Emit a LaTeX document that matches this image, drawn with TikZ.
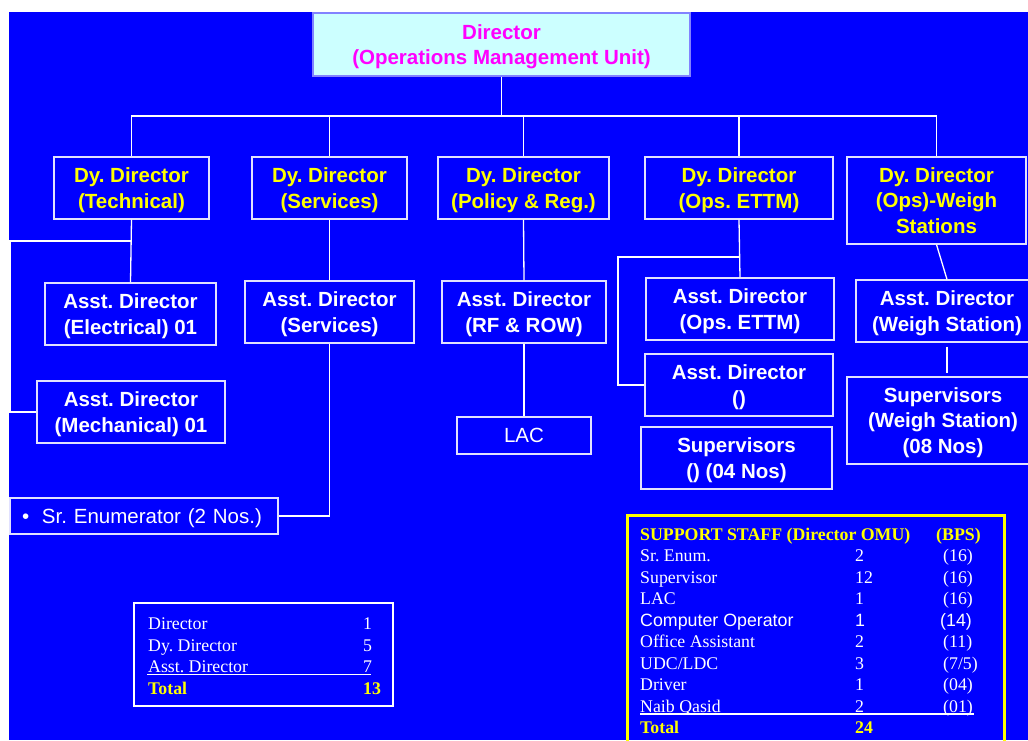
\documentclass[tikz,border=0pt]{standalone}
\usepackage{fontspec}
\setmainfont{Liberation Serif}
\newfontfamily\arialf{Liberation Sans}
\frenchspacing
\newcommand\boxfont{\arialf\bfseries\fontsize{20.5}{25.5}\selectfont}
\newcommand\boxfontreg{\arialf\fontsize{20.5}{25.5}\selectfont}
\newcommand\tabfont{\fontsize{17.8}{21.5}\selectfont}
\newcommand\tabsans{\arialf\fontsize{17.8}{21.5}\selectfont}
\definecolor{bgblue}{RGB}{0,0,255}
\definecolor{boxline}{RGB}{225,225,255}
\definecolor{dirfill}{RGB}{204,255,255}
\definecolor{dirline}{RGB}{130,130,255}
\definecolor{dirtext}{RGB}{255,0,255}
\definecolor{ylw}{RGB}{255,255,0}
\begin{document}
\begin{tikzpicture}[x=1pt,y=-1pt,
  box/.style={draw=boxline, line width=1.2pt, fill=bgblue, align=center, inner sep=0pt,
    text=white, font=\boxfont, text depth=0pt},
  onebox/.style={box, font=\boxfontreg, text depth=0pt},
  dybox/.style={box, text=ylw},
  conn/.style={draw=white, line width=1.3pt},
  cell/.style={anchor=base west, inner sep=0pt, text=white, font=\tabfont},
  cellsans/.style={cell, font=\tabsans},
  tot/.style={cell, text=ylw, font=\tabfont\bfseries}]
\clip (0,0) rectangle (1028,740);
\fill[white] (0,0) rectangle (1028,740);
\fill[bgblue] (9,12) rectangle (1028,740);

% Director
\node[box, fill=dirfill, draw=dirline, text=dirtext, minimum width=377, minimum height=63]
  (dir) at (501.5,44.5) {Director\\(Operations Management Unit)};

% Deputy directors
\node[dybox, minimum width=155, minimum height=62] (dt) at (131.5,188) {Dy. Director\\(Technical)};
\node[dybox, minimum width=155, minimum height=62] (ds) at (329.5,188) {Dy. Director\\(Services)};
\node[dybox, minimum width=171, minimum height=62] (dp) at (523.5,188) {Dy. Director\\(Policy \& Reg.)};
\node[dybox, minimum width=188, minimum height=62] (de) at (739,188) {Dy. Director\\(Ops. ETTM)};
\node[dybox, minimum width=179, minimum height=87] (dw) at (936.5,200.5) {Dy. Director\\(Ops)-Weigh\\Stations};

% Assistant directors and staff
\node[box, minimum width=171, minimum height=62] (ae) at (130.5,314) {Asst. Director\\(Electrical) 01};
\node[box, minimum width=188, minimum height=62] (am) at (131,412) {Asst. Director\\(Mechanical) 01};
\node[box, minimum width=169, minimum height=62] (as) at (329.5,312) {Asst. Director\\(Services)};
\node[box, minimum width=164, minimum height=62] (ar) at (524,312) {Asst. Director\\(RF \& ROW)};
\node[onebox, minimum width=134, minimum height=37] (lac) at (524,435.5) {LAC};
\node[box, minimum width=188, minimum height=62] (aet) at (740,309) {Asst. Director\\(Ops. ETTM)};
\node[box, minimum width=188, minimum height=62] (ax) at (739,385) {Asst. Director\\()};
\node[box, minimum width=191, minimum height=62] (sx) at (736.5,458) {Supervisors\\() (04 Nos)};
\node[box, minimum width=182, minimum height=62] (aw) at (947,311) {Asst. Director\\(Weigh Station)};
\node[box, minimum width=192, minimum height=87] (sw) at (943,420.5) {Supervisors\\(Weigh Station)\\(08 Nos)};
\node[onebox, minimum width=268, minimum height=36, text width=244, inner xsep=12pt, align=left]
  (sre) at (144,516) {\makebox[20pt][l]{\textbullet}Sr. Enumerator (2 Nos.)};

% Connectors
\coordinate (bus) at (502,116);
\coordinate (tl) at (10,241);
\coordinate (eb) at (618,257);
\draw[conn] (dir.south) -- (dir.south |- bus);
\draw[conn] (dt.north) -- (dt.north |- bus) -- (dw.north |- bus) -- (dw.north);
\draw[conn] (ds.north) -- (ds.north |- bus);
\draw[conn] (dp.north) -- (dp.north |- bus);
\draw[conn] (de.north) -- (de.north |- bus);
\draw[conn] (dt.south) -- (ae.north);
\draw[conn] (dt.south |- tl) -- (tl) |- (am.west);
\draw[conn] (ds.south) -- (as.north);
\draw[conn] (as.south) |- (sre.east);
\draw[conn] (dp.south) -- (ar.north);
\draw[conn] (ar.south) -- (lac.north);
\draw[conn] (de.south) -- (aet.north);
\draw[conn] (de.south |- eb) -- (eb) |- (ax.west);
\draw[conn] (dw.south) -- (aw.north);
\draw[conn] ([yshift=-4]aw.south) -- ([yshift=3]aw.south |- sw.north);

% Counts table
\node[draw=white, line width=2.5pt, minimum width=259, minimum height=103, inner sep=0pt] (cnt) at (263.5,654.5) {};
\node[cell] (c1a) at (148,629) {Director};
\node[cell] (c1b) at (363,629) {1};
\node[cell] (c2a) at (148,651) {Dy. Director};
\node[cell] (c2b) at (363,651) {5};
\node[cell] (c3a) at (148,672) {Asst. Director};
\node[cell] (c3b) at (363,672) {7};
\draw[white, line width=1.2pt] (147,674.5) -- (371,674.5);
\node[tot] (c4a) at (148,694) {Total};
\node[tot] (c4b) at (363,694) {13};

% Support staff table
\node[draw=ylw, line width=3pt, minimum width=377, minimum height=230, inner sep=0pt] (sup) at (815.5,630) {};
\node[tot] (s0a) at (640,540) {SUPPORT STAFF (Director OMU)};
\node[tot] (s0c) at (936,540) {(BPS)};
\node[cell] (s1a) at (640,561.5) {Sr. Enum.};
\node[cell] (s1b) at (855,561.5) {2};
\node[cell] (s1c) at (943,561.5) {(16)};
\node[cell] (s2a) at (640,583) {Supervisor};
\node[cell] (s2b) at (855,583) {12};
\node[cell] (s2c) at (943,583) {(16)};
\node[cell] (s3a) at (640,604.5) {LAC};
\node[cell] (s3b) at (855,604.5) {1};
\node[cell] (s3c) at (943,604.5) {(16)};
\node[cellsans] (s4a) at (640,626) {Computer Operator};
\node[cellsans] (s4b) at (855,626) {1};
\node[cellsans] (s4c) at (940,626) {(14)};
\node[cell] (s5a) at (640,647.5) {Office Assistant};
\node[cell] (s5b) at (855,647.5) {2};
\node[cell] (s5c) at (943,647.5) {(11)};
\node[cell] (s6a) at (640,669) {UDC/LDC};
\node[cell] (s6b) at (855,669) {3};
\node[cell] (s6c) at (943,669) {(7/5)};
\node[cell] (s7a) at (640,690.5) {Driver};
\node[cell] (s7b) at (855,690.5) {1};
\node[cell] (s7c) at (943,690.5) {(04)};
\node[cell] (s8a) at (640,712) {Naib Qasid};
\node[cell] (s8b) at (855,712) {2};
\node[cell] (s8c) at (943,712) {(01)};
\draw[white, line width=1.2pt] (640,714) -- (974,714);
\node[tot] (s9a) at (640,733.5) {Total};
\node[tot] (s9b) at (855,733.5) {24};
\end{tikzpicture}
\end{document}
